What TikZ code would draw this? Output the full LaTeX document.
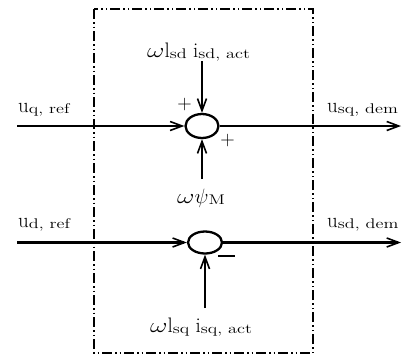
\documentclass[tikz,border=0pt]{standalone}
\usetikzlibrary{arrows.meta,shapes.geometric}
\newcommand\sbx[1]{\raisebox{-1.5pt}{\scalebox{1.3}[1]{\fontsize{14}{14}\selectfont #1}}}
\newcommand\wom{\scalebox{1.3}[1]{$\omega$}}
\begin{document}
\begin{tikzpicture}[x=1pt,y=-1pt,
  sig/.style={line width=2.8pt},
  tip/.style={-{Straight Barb[length=12pt,width=9pt,line width=1.6pt]}},
  sumnode/.style={draw,line width=2.3pt,ellipse,minimum width=33pt,minimum height=24pt,inner sep=0pt},
  lbl/.style={inner sep=0pt,font=\fontsize{21}{24}\selectfont},
  sgn/.style={inner sep=0pt,font=\fontsize{20}{22}\selectfont},
  frame/.style={line width=2.4pt,dash pattern=on 10pt off 3pt on 1.5pt off 3pt on 1.5pt off 3pt}]
\useasboundingbox (0,0) rectangle (404,360);
\draw[frame] (94,9) rectangle (313,353);
% sum nodes
\node[sumnode] (s1) at (202,126) {};
\node[sumnode,minimum width=34pt,minimum height=22pt] (s2) at (205,242.5) {};
\coordinate (in1) at (17,126);
\coordinate (out1) at (401,126);
\coordinate (in2) at (17,242.5);
\coordinate (out2) at (401,242.5);
\coordinate (t1) at (202,61);
\coordinate (b1) at (202,179);
\coordinate (b2) at (205,308);
\draw[sig,tip] (in1) -- (s1.west);
\draw[sig,tip] (s1.east) -- (out1);
\draw[sig,tip] (t1) -- (s1.north);
\draw[sig,tip] (b1) -- (s1.south);
\draw[sig,tip] (in2) -- (s2.west);
\draw[sig,tip] (s2.east) -- (out2);
\draw[sig,tip] (b2) -- (s2.south);
% labels
\node[lbl,anchor=base west] (l1) at (18,112) {u\sbx{q, ref}};
\node[lbl,anchor=base west] (l2) at (327,112) {u\sbx{sq, dem}};
\node[lbl,anchor=base west] (l3) at (18,227) {u\sbx{d, ref}};
\node[lbl,anchor=base west] (l4) at (327,227) {u\sbx{sd, dem}};
\node[lbl,anchor=base west] (l5) at (147,57) {\wom l\sbx{sd} i\sbx{sd, act}};
\node[lbl,anchor=base west] (l6) at (177,203) {\wom$\psi$\sbx{M}};
\node[lbl,anchor=base west] (l7) at (150,332) {\wom l\sbx{sq} i\sbx{sq, act}};
\node[sgn] (p1) at (184.5,105) {+};
\node[sgn] (p2) at (227.5,140.5) {+};
\draw[line width=2pt] (218,256) -- (235,256);
\end{tikzpicture}
\end{document}
